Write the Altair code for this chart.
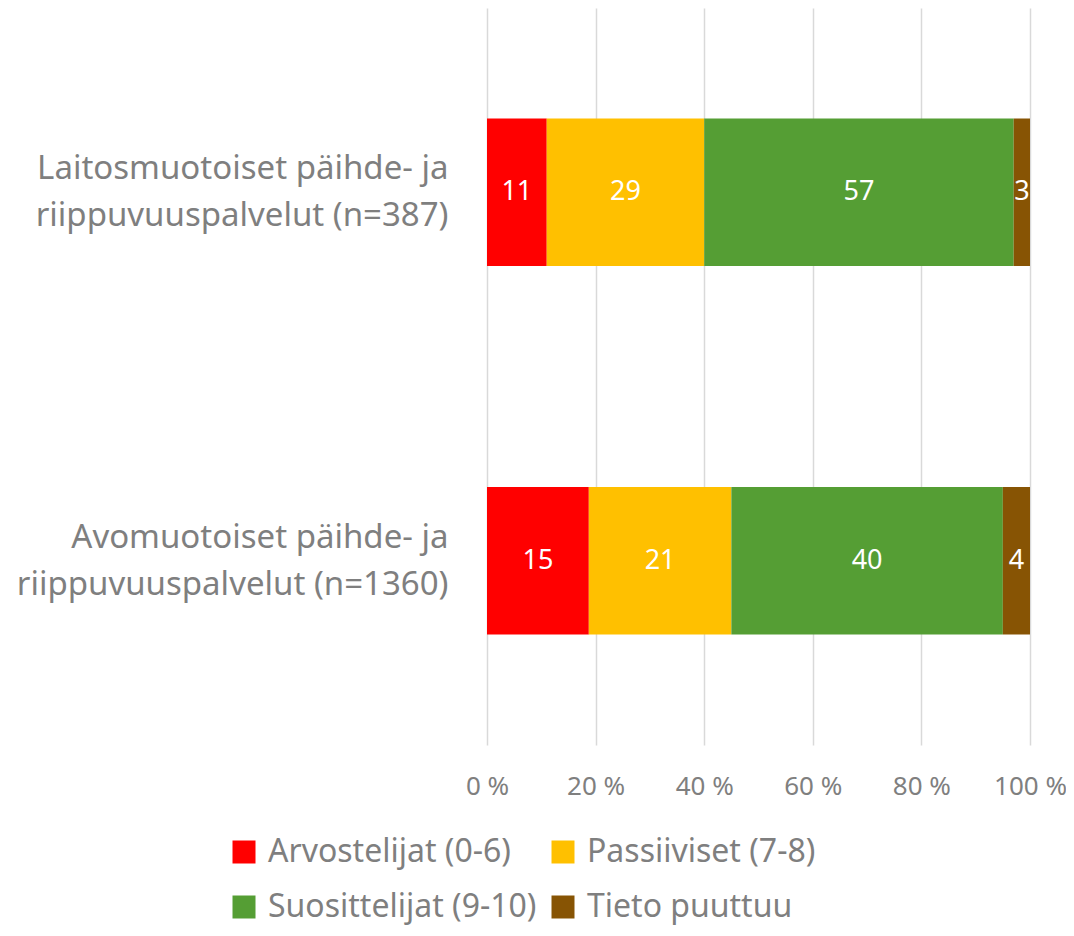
import altair as alt
import pandas as pd

categories = [
    "Laitosmuotoiset päihde- ja|riippuvuuspalvelut (n=387)",
    "Avomuotoiset päihde- ja|riippuvuuspalvelut (n=1360)",
]
series = ["Arvostelijat (0-6)", "Passiiviset (7-8)", "Suosittelijat (9-10)", "Tieto puuttuu"]
laitos_values = [11, 29, 57, 3]
avo_values = [15, 21, 40, 4]
colors = ["#FF0000", "#FFC000", "#559E34", "#875404"]
tick_values = [0, 0.2, 0.4, 0.6, 0.8, 1.0]

rows = []
for cat, vals in zip(categories, [laitos_values, avo_values]):
    for i, (s, v) in enumerate(zip(series, vals)):
        rows.append({"cat": cat, "series": s, "value": v, "order": i})
df = pd.DataFrame(rows)

FONT = "Noto Sans"
GREY = "#7F7F7F"

base = alt.Chart(df).transform_stack(
    stack="value",
    groupby=["cat"],
    as_=["s0", "s1"],
    offset="normalize",
    sort=[alt.SortField("order", order="ascending")],
).transform_calculate(mid="(datum.s0 + datum.s1) / 2")

y_enc = alt.Y(
    "cat:N",
    sort=categories,
    scale=alt.Scale(paddingInner=0.6, paddingOuter=0.3),
    axis=alt.Axis(
        title=None,
        labelExpr="split(datum.label, '|')",
        labelFont=FONT,
        labelFontSize=33,
        labelColor=GREY,
        labelLineHeight=47,
        labelPadding=39,
        labelOffset=-23,
        labelLimit=600,
        ticks=False,
        domain=False,
        grid=False,
    ),
)

bars = base.mark_bar().encode(
    x=alt.X(
        "s0:Q",
        scale=alt.Scale(domain=[0, 1], nice=False),
        axis=alt.Axis(
            title=None,
            values=tick_values,
            labelExpr="round(datum.value * 100) + ' %'",
            labelFont=FONT,
            labelFontSize=26,
            labelColor=GREY,
            labelPadding=28,
            labelOverlap=False,
            labelFlush=False,
            ticks=False,
            domain=False,
            grid=True,
            gridColor="#D9D9D9",
            gridWidth=1.5,
        ),
    ),
    x2="s1:Q",
    y=y_enc,
    color=alt.Color(
        "series:N",
        sort=series,
        scale=alt.Scale(domain=series, range=colors),
        legend=alt.Legend(
            title=None,
            orient="none",
            direction="horizontal",
            legendX=-259,
            legendY=828,
            columns=2,
            symbolType="square",
            symbolSize=529,
            symbolStrokeWidth=0,
            labelFont=FONT,
            labelFontSize=32,
            labelColor=GREY,
            labelOffset=8,
            columnPadding=10,
            rowPadding=23,
            labelLimit=400,
        ),
    ),
)

labels = base.mark_text(color="white", font=FONT, fontSize=27, baseline="middle", align="center").encode(
    x="mid:Q",
    y=alt.Y("cat:N", sort=categories),
    text="value:Q",
)

chart = (
    alt.layer(bars, labels)
    .properties(
        width=543,
        height=737,
        autosize=alt.AutoSizeParams(type="none"),
        padding={"left": 479, "top": 0, "right": 36, "bottom": 183},
    )
    .configure_view(stroke=None)
)

chart.save("out.html", embed_options={"renderer": "svg", "actions": False})
